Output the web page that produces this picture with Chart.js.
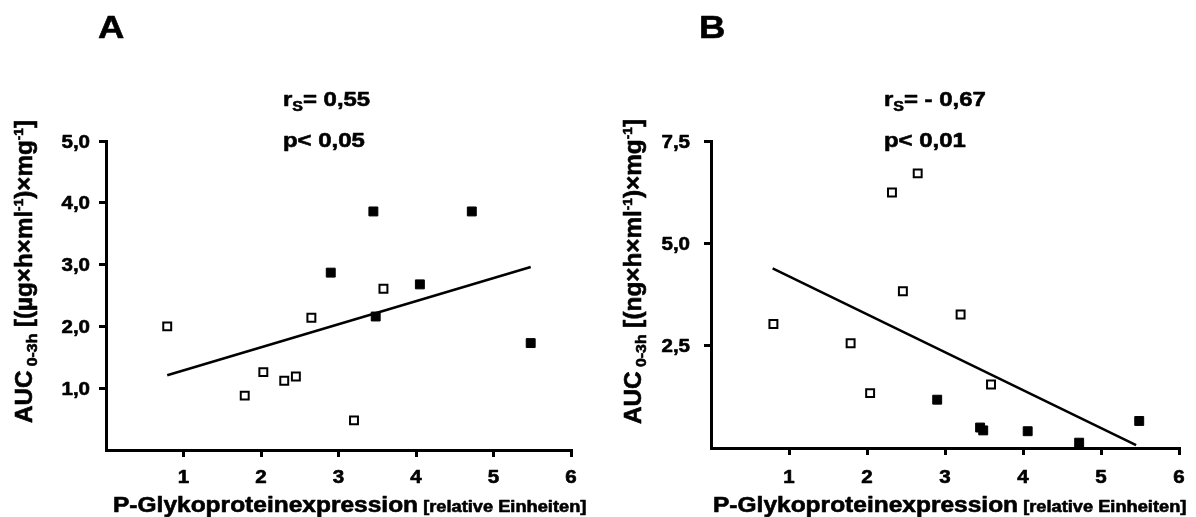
<!DOCTYPE html>
<html>
<head>
<meta charset="utf-8">
<script src="https://cdn.jsdelivr.net/npm/chart.js@4/dist/chart.umd.min.js"></script>
<style>
    html, body { margin: 0; padding: 0; background: #fff; }
    .panel { position: absolute; top: 0; width: 598px; height: 517px; }
    #panelA { left: 0; }
    #panelB { left: 598px; }
</style>
</head>
<body>
<div class="panel" id="panelA"><canvas id="chartA" width="598" height="517"></canvas></div>
<div class="panel" id="panelB"><canvas id="chartB" width="598" height="517"></canvas></div>
<script>
// A: AUC 0-3h in µg×h/ml per mg vs. P-gp expression
var openAX = [0.79, 1.79, 2.03, 2.30, 2.45, 2.65, 3.20, 3.58];
var openAY = [2.00, 0.88, 1.26, 1.12, 1.19, 2.14, 0.48, 2.61];
var filledAX = [2.90, 3.45, 3.48, 4.05, 4.72, 5.48];
var filledAY = [2.87, 3.86, 2.16, 2.68, 3.86, 1.73];
var fitAX = [0.79, 5.48];
var fitAY = [1.21, 2.96];

// B: AUC 0-3h in ng×h/ml per mg vs. P-gp expression
var openBX = [0.80, 1.79, 2.04, 2.32, 2.46, 2.65, 3.20, 3.59];
var openBY = [3.03, 2.56, 1.34, 6.24, 3.83, 6.71, 3.26, 1.55];
var filledBX = [2.90, 3.45, 3.49, 4.06, 4.72, 5.49];
var filledBY = [1.18, 0.50, 0.43, 0.41, 0.13, 0.66];
var fitBX = [0.79, 5.45];
var fitBY = [4.39, 0.07];

var xMax = 6, xStep = 1;
var yMaxA = 5, yStepA = 1;
var yMaxB = 7.5, yStepB = 2.5;

var FAMILY = '"Liberation Sans", Arial, Helvetica, sans-serif';
var SX = 1.14; // the figure's lettering runs a bit wider than Arial

function font(size) {
    return 'bold ' + size + 'px ' + FAMILY;
}

function toPoints(xs, ys) {
    return xs.map(function (x, i) { return { x: x, y: ys[i] }; });
}

function comma(v, digits) {
    return v.toFixed(digits).replace('.', ',');
}

// runs: [text, size, baseline shift]
function runsWidth(ctx, runs) {
    var w = 0;
    runs.forEach(function (r) {
        ctx.font = font(r[1]);
        w += ctx.measureText(r[0]).width;
    });
    return w;
}

function drawRuns(ctx, runs, x, y, align, stretch) {
    var w = runsWidth(ctx, runs);
    ctx.save();
    ctx.translate(x, y);
    ctx.scale(stretch, 1);
    ctx.lineWidth = 0.6;
    ctx.strokeStyle = '#000';
    ctx.lineJoin = 'round';
    var cx = align === 'center' ? -w / 2 : (align === 'right' ? -w : 0);
    runs.forEach(function (r) {
        ctx.font = font(r[1]);
        ctx.fillText(r[0], cx, r[2] || 0);
        ctx.strokeText(r[0], cx, r[2] || 0);
        cx += ctx.measureText(r[0]).width;
    });
    ctx.restore();
}

var panelText = {
    id: 'panelText',
    afterDraw: function (chart, args, o) {
        var ctx = chart.ctx;
        var xs = chart.scales.x, ys = chart.scales.y;
        ctx.save();
        ctx.fillStyle = '#000';
        ctx.textBaseline = 'alphabetic';

        // tick labels
        ys.ticks.forEach(function (t) {
            if (t.value === 0) return;
            drawRuns(ctx, [[comma(t.value, 1), 18, 0]], o.yLabelRight, ys.getPixelForValue(t.value) + 6.5, 'right', SX);
        });
        xs.ticks.forEach(function (t) {
            if (t.value === 0) return;
            drawRuns(ctx, [[String(t.value), 18, 0]], xs.getPixelForValue(t.value), 483, 'center', SX);
        });

        // panel letter and statistics
        drawRuns(ctx, [[o.letter, 32, 0]], o.letterX, 38, 'left', SX);
        drawRuns(ctx, [['r', 21, 0], ['S', 14, 5], ['= ' + o.rs, 21, 0]], o.statX, 106, 'left', SX);
        drawRuns(ctx, [['p< ' + o.p, 21, 0]], o.statX, 147, 'left', SX);

        // x axis title
        drawRuns(ctx, [['P-Glykoproteinexpression', 21.5, 0], [' [relative Einheiten]', 16, 0]], o.xTitleX, 512, 'left', SX);

        // y axis title, rotated
        var runs = [['AUC', 23, 0], [' 0-3h', 15, 5], [' [(' + o.unit + '×h×ml', 23, 0], ['-1', 13, -9],
            [')×mg', 23, 0], ['-1', 13, -9], [']', 23, 0]];
        var len = o.yTitleBottom - o.yTitleTop;
        ctx.translate(o.yTitleX, o.yTitleBottom);
        ctx.rotate(-Math.PI / 2);
        drawRuns(ctx, runs, 0, 0, 'left', len / runsWidth(ctx, runs));
        ctx.restore();
    }
};

function hideZero(c) {
    return c.tick && c.tick.value === 0 ? 'rgba(0,0,0,0)' : '#000';
}

function makePanel(id, openX, openY, filledX, filledY, fitX, fitY, yMax, yStep, box, text) {
    var ctx = document.getElementById(id).getContext('2d');
    return new Chart(ctx, {
        type: 'scatter',
        data: {
            datasets: [{
                data: toPoints(filledX, filledY),
                pointStyle: 'rect',
                pointRadius: 6.3,
                backgroundColor: '#000',
                borderColor: '#000',
                borderWidth: 1,
                clip: false
            }, {
                data: toPoints(openX, openY),
                pointStyle: 'rect',
                pointRadius: 5.6,
                backgroundColor: '#fff',
                borderColor: '#000',
                borderWidth: 2,
                clip: false
            }, {
                data: toPoints(fitX, fitY),
                showLine: true,
                pointRadius: 0,
                borderColor: '#000',
                borderWidth: 2.5,
                clip: false
            }]
        },
        options: {
            responsive: false,
            animation: false,
            events: [],
            layout: {
                padding: { left: 0, top: box.top, right: 598 - box.right, bottom: 0 }
            },
            scales: {
                x: {
                    type: 'linear',
                    min: 0,
                    max: xMax,
                    afterFit: function (s) { s.height = 517 - box.bottom; },
                    border: { display: true, color: '#000', width: 3 },
                    grid: { drawOnChartArea: false, drawTicks: true, tickLength: 7, lineWidth: 3, color: hideZero },
                    ticks: { display: false, stepSize: xStep }
                },
                y: {
                    type: 'linear',
                    min: 0,
                    max: yMax,
                    afterFit: function (s) { s.width = box.left; },
                    border: { display: true, color: '#000', width: 3 },
                    grid: { drawOnChartArea: false, drawTicks: true, tickLength: 7, lineWidth: 3, color: hideZero },
                    ticks: { display: false, stepSize: yStep }
                }
            },
            plugins: {
                legend: { display: false },
                tooltip: { enabled: false },
                panelText: text
            }
        },
        plugins: [panelText]
    });
}

makePanel('chartA', openAX, openAY, filledAX, filledAY, fitAX, fitAY, yMaxA, yStepA,
    { left: 106, right: 571, top: 141, bottom: 450 },
    { letter: 'A', letterX: 98, statX: 283, rs: '0,55', p: '0,05', unit: 'µg',
      yLabelRight: 90, xTitleX: 113, yTitleX: 32, yTitleTop: 120, yTitleBottom: 423 });

makePanel('chartB', openBX, openBY, filledBX, filledBY, fitBX, fitBY, yMaxB, yStepB,
    { left: 113, right: 581, top: 141, bottom: 448 },
    { letter: 'B', letterX: 101, statX: 286, rs: '- 0,67', p: '0,01', unit: 'ng',
      yLabelRight: 92, xTitleX: 115, yTitleX: 43, yTitleTop: 119, yTitleBottom: 424 });
</script>
</body>
</html>
